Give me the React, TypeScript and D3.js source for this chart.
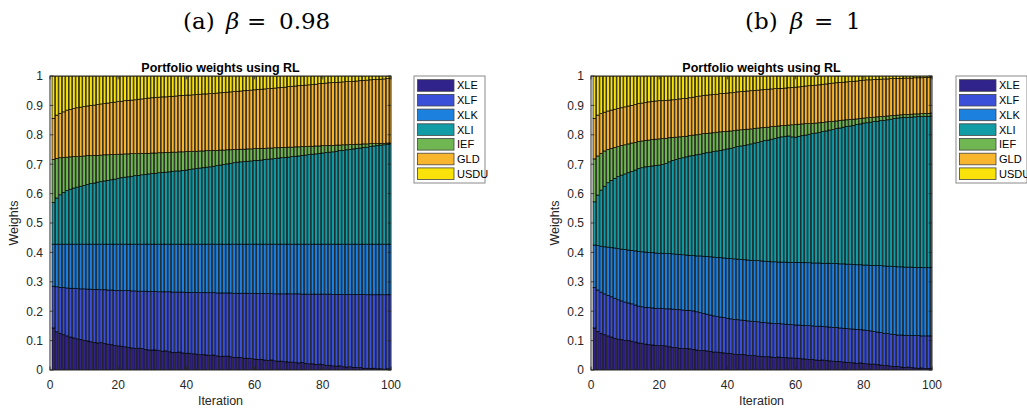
import React from "react";
import * as d3 from "d3";

// ---------- categories / labels ----------
const assets = ["XLE", "XLF", "XLK", "XLI", "IEF", "GLD", "USDU"];
const assetColors = ["#30238c", "#3b50d9", "#1c80de", "#129ca6", "#70b753", "#f8b52e", "#f8e20a"];
const iterations = d3.range(1, 101);
const yTicks = [0, 0.1, 0.2, 0.3, 0.4, 0.5, 0.6, 0.7, 0.8, 0.9, 1];
const yTickLabels = ["0", "0.1", "0.2", "0.3", "0.4", "0.5", "0.6", "0.7", "0.8", "0.9", "1"];
const xTicks = [0, 20, 40, 60, 80, 100];
const xTickLabels = ["0", "20", "40", "60", "80", "100"];

// ---------- (a) beta = 0.98 : cumulative weight level at the top of each asset ----------
const xleTopA = [
  0.143, 0.130, 0.125, 0.120, 0.116, 0.112, 0.109, 0.106, 0.104, 0.101,
  0.099, 0.096, 0.093, 0.092, 0.093, 0.090, 0.088, 0.086, 0.083, 0.082,
  0.081, 0.079, 0.077, 0.075, 0.074, 0.074, 0.073, 0.070, 0.068, 0.068,
  0.068, 0.066, 0.064, 0.065, 0.062, 0.060, 0.060, 0.061, 0.058, 0.057,
  0.057, 0.055, 0.054, 0.052, 0.052, 0.051, 0.050, 0.051, 0.048, 0.046,
  0.047, 0.047, 0.045, 0.043, 0.043, 0.042, 0.040, 0.040, 0.039, 0.037,
  0.036, 0.036, 0.034, 0.033, 0.034, 0.031, 0.030, 0.030, 0.028, 0.027,
  0.027, 0.025, 0.024, 0.025, 0.022, 0.021, 0.021, 0.019, 0.020, 0.018,
  0.016, 0.016, 0.014, 0.013, 0.014, 0.011, 0.010, 0.011, 0.009, 0.008,
  0.008, 0.006, 0.006, 0.005, 0.006, 0.004, 0.004, 0.003, 0.004, 0.003,
];
const xlfTopA = [
  0.285, 0.283, 0.281, 0.280, 0.279, 0.278, 0.278, 0.277, 0.276, 0.276,
  0.275, 0.275, 0.274, 0.274, 0.273, 0.273, 0.272, 0.272, 0.271, 0.271,
  0.270, 0.270, 0.270, 0.269, 0.269, 0.268, 0.268, 0.268, 0.267, 0.267,
  0.267, 0.266, 0.266, 0.266, 0.266, 0.265, 0.265, 0.265, 0.265, 0.264,
  0.264, 0.264, 0.264, 0.263, 0.263, 0.263, 0.263, 0.263, 0.262, 0.262,
  0.262, 0.262, 0.262, 0.261, 0.261, 0.261, 0.261, 0.261, 0.261, 0.260,
  0.260, 0.260, 0.260, 0.260, 0.260, 0.259, 0.259, 0.259, 0.259, 0.259,
  0.259, 0.259, 0.259, 0.258, 0.258, 0.258, 0.258, 0.258, 0.258, 0.258,
  0.258, 0.258, 0.257, 0.257, 0.257, 0.257, 0.257, 0.257, 0.257, 0.257,
  0.257, 0.257, 0.256, 0.256, 0.256, 0.256, 0.256, 0.256, 0.256, 0.256,
];
const xlkTopA = [
  0.428, 0.428, 0.428, 0.428, 0.428, 0.428, 0.428, 0.428, 0.428, 0.428,
  0.428, 0.428, 0.428, 0.428, 0.428, 0.428, 0.428, 0.428, 0.428, 0.428,
  0.428, 0.428, 0.428, 0.428, 0.428, 0.428, 0.428, 0.428, 0.428, 0.428,
  0.428, 0.428, 0.428, 0.428, 0.428, 0.428, 0.428, 0.428, 0.428, 0.428,
  0.428, 0.428, 0.428, 0.428, 0.428, 0.428, 0.428, 0.428, 0.428, 0.428,
  0.428, 0.428, 0.428, 0.428, 0.428, 0.428, 0.428, 0.428, 0.428, 0.428,
  0.428, 0.428, 0.428, 0.428, 0.428, 0.428, 0.428, 0.428, 0.428, 0.428,
  0.428, 0.428, 0.428, 0.428, 0.428, 0.428, 0.428, 0.428, 0.428, 0.428,
  0.428, 0.428, 0.428, 0.428, 0.428, 0.428, 0.428, 0.428, 0.428, 0.428,
  0.428, 0.428, 0.428, 0.428, 0.428, 0.428, 0.428, 0.428, 0.428, 0.428,
];
const xliTopA = [
  0.570, 0.585, 0.596, 0.604, 0.610, 0.615, 0.619, 0.622, 0.625, 0.628,
  0.631, 0.634, 0.636, 0.639, 0.641, 0.643, 0.645, 0.647, 0.649, 0.652,
  0.654, 0.656, 0.657, 0.659, 0.661, 0.662, 0.664, 0.665, 0.667, 0.668,
  0.669, 0.671, 0.672, 0.673, 0.674, 0.676, 0.677, 0.677, 0.679, 0.680,
  0.682, 0.684, 0.685, 0.687, 0.688, 0.690, 0.691, 0.693, 0.695, 0.697,
  0.699, 0.701, 0.703, 0.705, 0.707, 0.708, 0.709, 0.710, 0.711, 0.712,
  0.713, 0.714, 0.716, 0.717, 0.718, 0.719, 0.721, 0.722, 0.723, 0.724,
  0.726, 0.727, 0.728, 0.730, 0.731, 0.733, 0.734, 0.735, 0.737, 0.738,
  0.740, 0.741, 0.742, 0.744, 0.746, 0.747, 0.749, 0.750, 0.752, 0.754,
  0.755, 0.757, 0.758, 0.760, 0.762, 0.763, 0.765, 0.766, 0.768, 0.769,
];
const iefTopA = [
  0.716, 0.720, 0.722, 0.723, 0.724, 0.725, 0.726, 0.726, 0.727, 0.728,
  0.729, 0.729, 0.730, 0.730, 0.731, 0.732, 0.732, 0.733, 0.733, 0.734,
  0.734, 0.735, 0.735, 0.736, 0.736, 0.736, 0.737, 0.737, 0.737, 0.738,
  0.738, 0.739, 0.739, 0.740, 0.740, 0.741, 0.741, 0.742, 0.742, 0.743,
  0.743, 0.744, 0.744, 0.745, 0.745, 0.746, 0.746, 0.747, 0.747, 0.748,
  0.748, 0.749, 0.749, 0.750, 0.750, 0.751, 0.751, 0.752, 0.752, 0.753,
  0.753, 0.754, 0.754, 0.755, 0.755, 0.756, 0.756, 0.757, 0.757, 0.758,
  0.758, 0.759, 0.759, 0.760, 0.760, 0.761, 0.761, 0.762, 0.762, 0.763,
  0.763, 0.764, 0.764, 0.765, 0.765, 0.766, 0.766, 0.767, 0.767, 0.768,
  0.768, 0.769, 0.769, 0.770, 0.770, 0.770, 0.771, 0.771, 0.772, 0.772,
];
const gldTopA = [
  0.856, 0.867, 0.873, 0.878, 0.884, 0.886, 0.889, 0.892, 0.894, 0.896,
  0.898, 0.900, 0.901, 0.903, 0.905, 0.906, 0.908, 0.910, 0.911, 0.913,
  0.914, 0.916, 0.917, 0.918, 0.919, 0.921, 0.922, 0.923, 0.925, 0.926,
  0.927, 0.928, 0.929, 0.929, 0.930, 0.931, 0.932, 0.933, 0.934, 0.935,
  0.935, 0.936, 0.937, 0.938, 0.939, 0.939, 0.940, 0.941, 0.942, 0.943,
  0.944, 0.945, 0.946, 0.947, 0.948, 0.949, 0.950, 0.951, 0.952, 0.953,
  0.954, 0.955, 0.956, 0.957, 0.958, 0.959, 0.960, 0.961, 0.962, 0.964,
  0.965, 0.966, 0.967, 0.968, 0.969, 0.970, 0.971, 0.972, 0.974, 0.975,
  0.976, 0.977, 0.978, 0.978, 0.979, 0.980, 0.981, 0.981, 0.982, 0.983,
  0.984, 0.985, 0.986, 0.987, 0.988, 0.988, 0.989, 0.990, 0.991, 0.992,
];

// ---------- (b) beta = 1 : cumulative weight level at the top of each asset ----------
const xleTopB = [
  0.143, 0.131, 0.125, 0.120, 0.116, 0.112, 0.108, 0.105, 0.103, 0.101,
  0.100, 0.098, 0.095, 0.092, 0.091, 0.088, 0.086, 0.085, 0.084, 0.083,
  0.083, 0.082, 0.079, 0.077, 0.076, 0.074, 0.073, 0.073, 0.072, 0.070,
  0.068, 0.066, 0.066, 0.065, 0.063, 0.061, 0.061, 0.059, 0.058, 0.057,
  0.056, 0.054, 0.053, 0.053, 0.052, 0.050, 0.049, 0.049, 0.047, 0.046,
  0.045, 0.045, 0.044, 0.043, 0.044, 0.043, 0.042, 0.041, 0.041, 0.040,
  0.040, 0.038, 0.037, 0.036, 0.036, 0.034, 0.033, 0.034, 0.032, 0.031,
  0.030, 0.029, 0.029, 0.027, 0.026, 0.026, 0.024, 0.023, 0.024, 0.022,
  0.021, 0.020, 0.020, 0.018, 0.017, 0.015, 0.015, 0.013, 0.012, 0.012,
  0.010, 0.009, 0.010, 0.008, 0.007, 0.006, 0.007, 0.005, 0.005, 0.005,
];
const xlfTopB = [
  0.280, 0.272, 0.265, 0.259, 0.254, 0.249, 0.244, 0.239, 0.235, 0.231,
  0.228, 0.225, 0.221, 0.217, 0.215, 0.213, 0.212, 0.211, 0.210, 0.210,
  0.209, 0.208, 0.208, 0.207, 0.206, 0.205, 0.204, 0.203, 0.203, 0.201,
  0.198, 0.195, 0.192, 0.190, 0.187, 0.184, 0.182, 0.180, 0.178, 0.176,
  0.174, 0.172, 0.171, 0.170, 0.169, 0.167, 0.166, 0.165, 0.164, 0.162,
  0.161, 0.160, 0.159, 0.158, 0.158, 0.157, 0.156, 0.155, 0.154, 0.153,
  0.153, 0.152, 0.151, 0.151, 0.150, 0.149, 0.149, 0.148, 0.147, 0.146,
  0.145, 0.144, 0.143, 0.142, 0.141, 0.140, 0.139, 0.138, 0.137, 0.136,
  0.135, 0.133, 0.131, 0.129, 0.127, 0.125, 0.124, 0.122, 0.121, 0.119,
  0.119, 0.118, 0.118, 0.117, 0.117, 0.117, 0.116, 0.116, 0.116, 0.116,
];
const xlkTopB = [
  0.425, 0.423, 0.421, 0.419, 0.418, 0.416, 0.415, 0.413, 0.411, 0.410,
  0.408, 0.407, 0.405, 0.403, 0.402, 0.401, 0.400, 0.399, 0.398, 0.397,
  0.397, 0.396, 0.396, 0.395, 0.394, 0.393, 0.392, 0.391, 0.390, 0.389,
  0.388, 0.388, 0.387, 0.386, 0.385, 0.384, 0.383, 0.382, 0.381, 0.380,
  0.379, 0.378, 0.377, 0.376, 0.375, 0.374, 0.373, 0.372, 0.372, 0.371,
  0.370, 0.369, 0.368, 0.368, 0.367, 0.367, 0.367, 0.366, 0.366, 0.366,
  0.366, 0.365, 0.365, 0.365, 0.364, 0.364, 0.364, 0.363, 0.363, 0.363,
  0.362, 0.362, 0.361, 0.361, 0.360, 0.360, 0.359, 0.358, 0.358, 0.357,
  0.357, 0.356, 0.356, 0.355, 0.355, 0.354, 0.353, 0.353, 0.352, 0.351,
  0.351, 0.350, 0.350, 0.350, 0.349, 0.349, 0.349, 0.348, 0.348, 0.348,
];
const xliTopB = [
  0.572, 0.595, 0.612, 0.625, 0.637, 0.645, 0.652, 0.658, 0.663, 0.667,
  0.671, 0.675, 0.680, 0.685, 0.688, 0.691, 0.692, 0.694, 0.696, 0.697,
  0.699, 0.703, 0.708, 0.713, 0.716, 0.719, 0.722, 0.725, 0.728, 0.730,
  0.732, 0.734, 0.737, 0.739, 0.741, 0.743, 0.745, 0.747, 0.749, 0.752,
  0.754, 0.757, 0.760, 0.762, 0.764, 0.766, 0.769, 0.772, 0.774, 0.777,
  0.780, 0.782, 0.785, 0.788, 0.790, 0.793, 0.795, 0.796, 0.793, 0.792,
  0.795, 0.797, 0.799, 0.802, 0.804, 0.806, 0.808, 0.811, 0.813, 0.816,
  0.818, 0.821, 0.823, 0.826, 0.828, 0.830, 0.832, 0.835, 0.837, 0.840,
  0.841, 0.843, 0.845, 0.846, 0.848, 0.849, 0.851, 0.853, 0.855, 0.857,
  0.858, 0.859, 0.859, 0.860, 0.861, 0.862, 0.862, 0.863, 0.863, 0.864,
];
const iefTopB = [
  0.718, 0.728, 0.737, 0.745, 0.750, 0.754, 0.757, 0.760, 0.764, 0.766,
  0.769, 0.772, 0.774, 0.777, 0.779, 0.781, 0.782, 0.784, 0.785, 0.786,
  0.787, 0.788, 0.790, 0.791, 0.792, 0.793, 0.794, 0.795, 0.797, 0.799,
  0.800, 0.802, 0.804, 0.805, 0.806, 0.807, 0.809, 0.810, 0.811, 0.812,
  0.813, 0.814, 0.816, 0.817, 0.818, 0.819, 0.820, 0.822, 0.823, 0.824,
  0.825, 0.826, 0.828, 0.829, 0.830, 0.831, 0.832, 0.833, 0.834, 0.835,
  0.836, 0.837, 0.838, 0.838, 0.839, 0.840, 0.841, 0.842, 0.844, 0.845,
  0.846, 0.847, 0.849, 0.850, 0.851, 0.852, 0.853, 0.854, 0.856, 0.857,
  0.858, 0.859, 0.860, 0.861, 0.862, 0.863, 0.864, 0.865, 0.866, 0.867,
  0.868, 0.869, 0.869, 0.870, 0.871, 0.871, 0.872, 0.873, 0.873, 0.874,
];
const gldTopB = [
  0.856, 0.867, 0.872, 0.877, 0.881, 0.884, 0.887, 0.890, 0.892, 0.895,
  0.898, 0.900, 0.903, 0.906, 0.908, 0.910, 0.912, 0.914, 0.915, 0.916,
  0.916, 0.917, 0.918, 0.919, 0.920, 0.922, 0.923, 0.924, 0.926, 0.928,
  0.930, 0.932, 0.934, 0.935, 0.936, 0.937, 0.938, 0.940, 0.941, 0.942,
  0.943, 0.944, 0.946, 0.947, 0.948, 0.949, 0.950, 0.951, 0.952, 0.953,
  0.954, 0.955, 0.956, 0.957, 0.958, 0.958, 0.959, 0.960, 0.961, 0.962,
  0.963, 0.964, 0.966, 0.967, 0.968, 0.969, 0.970, 0.972, 0.973, 0.975,
  0.976, 0.977, 0.978, 0.979, 0.980, 0.981, 0.982, 0.983, 0.985, 0.986,
  0.987, 0.987, 0.988, 0.988, 0.989, 0.990, 0.990, 0.991, 0.991, 0.992,
  0.992, 0.993, 0.993, 0.993, 0.994, 0.994, 0.994, 0.995, 0.995, 0.995,
];
const totalTop = 1; // USDU fills up to 1

const topsA = [xleTopA, xlfTopA, xlkTopA, xliTopA, iefTopA, gldTopA];
const topsB = [xleTopB, xlfTopB, xlkTopB, xliTopB, iefTopB, gldTopB];

// ---------- layout ----------
const AX_TOP = 76;
const AX_H = 294;
const AX_W = 341;
const SANS = "'Liberation Sans', Arial, Helvetica, sans-serif";
const SERIF = "'DejaVu Serif', serif";
const AXIS_COLOR = "#262626";

type PanelProps = {
  id: string;
  left: number;
  tops: number[][];
  caption: { x: number; label: string; value: string; gaps: number[] };
  legendX: number;
};

function Panel({ id, left, tops, caption, legendX }: PanelProps) {
  const x = d3.scaleLinear().domain([0, 100]).range([left, left + AX_W]);
  const y = d3.scaleLinear().domain([0, 1]).range([AX_TOP + AX_H, AX_TOP]);
  const barW = x(0.8) - x(0);
  const right = left + AX_W;
  const bottom = AX_TOP + AX_H;
  const tickLen = 3.4;

  const level = (k: number, i: number) => (k < 0 ? 0 : k >= tops.length ? totalTop : tops[k][i]);

  return (
    <g>
      {/* caption */}
      <text y={29} fontFamily={SERIF} fontSize={23} fill="#000">
        <tspan x={caption.x}>{caption.label}</tspan>
        <tspan x={caption.x + caption.gaps[0]} fontStyle="italic">β</tspan>
        <tspan x={caption.x + caption.gaps[1]}>=</tspan>
        <tspan x={caption.x + caption.gaps[2]}>{caption.value}</tspan>
      </text>

      {/* title */}
      <text x={(left + right) / 2} y={72} textAnchor="middle" fontFamily={SANS} fontSize={12.5} fontWeight="bold" fill="#000">
        Portfolio weights using RL
      </text>

      <defs>
        <clipPath id={`clip-${id}`}>
          <rect x={left} y={AX_TOP} width={AX_W} height={AX_H} />
        </clipPath>
      </defs>

      <rect x={left} y={AX_TOP} width={AX_W} height={AX_H} fill="#fff" />

      <g clipPath={`url(#clip-${id})`}>
        {iterations.map((it, i) =>
          assets.map((a, k) => {
            const y0 = level(k - 1, i);
            const y1 = level(k, i);
            return (
              <rect
                key={`${a}-${it}`}
                x={x(it) - barW / 2}
                width={barW}
                y={y(y1)}
                height={Math.max(0, y(y0) - y(y1))}
                fill={assetColors[k]}
                stroke="#000"
                strokeWidth={0.7}
              />
            );
          })
        )}
      </g>

      {/* axes box and ticks */}
      <rect x={left} y={AX_TOP} width={AX_W} height={AX_H} fill="none" stroke={AXIS_COLOR} strokeWidth={1} />
      {yTicks.map((t) => (
        <g key={`yt-${t}`}>
          <line x1={left} x2={left + tickLen} y1={y(t)} y2={y(t)} stroke={AXIS_COLOR} strokeWidth={0.8} />
          <line x1={right} x2={right - tickLen} y1={y(t)} y2={y(t)} stroke={AXIS_COLOR} strokeWidth={0.8} />
        </g>
      ))}
      {xTicks.map((t) => (
        <g key={`xt-${t}`}>
          <line x1={x(t)} x2={x(t)} y1={bottom} y2={bottom - tickLen} stroke={AXIS_COLOR} strokeWidth={0.8} />
          <line x1={x(t)} x2={x(t)} y1={AX_TOP} y2={AX_TOP + tickLen} stroke={AXIS_COLOR} strokeWidth={0.8} />
        </g>
      ))}

      {/* tick labels */}
      {yTicks.map((t, i) => (
        <text key={`yl-${t}`} x={left - 7} y={y(t) + 4.3} textAnchor="end" fontFamily={SANS} fontSize={12} fill={AXIS_COLOR}>
          {yTickLabels[i]}
        </text>
      ))}
      {xTicks.map((t, i) => (
        <text key={`xl-${t}`} x={x(t)} y={bottom + 19} textAnchor="middle" fontFamily={SANS} fontSize={12} fill={AXIS_COLOR}>
          {xTickLabels[i]}
        </text>
      ))}

      {/* axis labels */}
      <text x={(left + right) / 2} y={405} textAnchor="middle" fontFamily={SANS} fontSize={12.5} fill={AXIS_COLOR}>
        Iteration
      </text>
      <text
        transform={`translate(${left - 32},${AX_TOP + AX_H / 2}) rotate(-90)`}
        textAnchor="middle"
        fontFamily={SANS}
        fontSize={12.5}
        fill={AXIS_COLOR}
      >
        Weights
      </text>

      {/* legend */}
      <rect x={legendX} y={76} width={71} height={107} fill="#fff" stroke="#8a8a8a" strokeWidth={1} />
      {assets.map((a, k) => {
        const cy = 85.5 + k * 14.7;
        return (
          <g key={`lg-${a}`}>
            <rect x={legendX + 3.5} y={cy - 5.8} width={36.5} height={11.6} fill={assetColors[k]} stroke="#444" strokeWidth={0.8} />
            <text x={legendX + 43} y={cy + 3.9} fontFamily={SANS} fontSize={11} fill="#000">
              {a}
            </text>
          </g>
        );
      })}
    </g>
  );
}

export default function App() {
  return (
    <svg
      width={1027}
      height={412}
      viewBox="0 0 1027 412"
      style={{ position: "absolute", left: 0, top: 0, background: "#fff" }}
    >
      <rect x={0} y={0} width={1027} height={412} fill="#fff" />
      <Panel
        id="a"
        left={50}
        tops={topsA}
        caption={{ x: 183, label: "(a)", value: "0.98", gaps: [43, 64, 96] }}
        legendX={414}
      />
      <Panel
        id="b"
        left={591}
        tops={topsB}
        caption={{ x: 745, label: "(b)", value: "1", gaps: [45, 69, 101] }}
        legendX={956}
      />
    </svg>
  );
}
